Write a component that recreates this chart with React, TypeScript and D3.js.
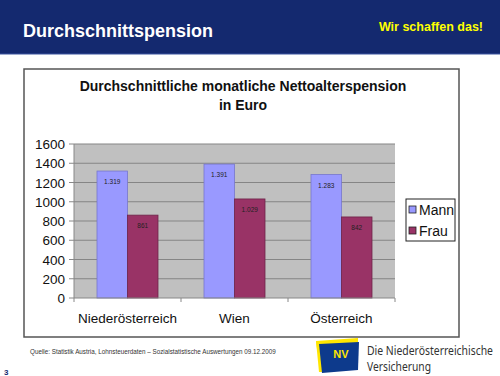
import React from "react";
import * as d3 from "d3";

const categories = ["Niederösterreich", "Wien", "Österreich"];
const seriesNames = ["Mann", "Frau"];
const mannValues = [1319, 1391, 1283];
const frauValues = [861, 1029, 842];
const mannLabels = ["1.319", "1.391", "1.283"];
const frauLabels = ["861", "1.029", "842"];
const yTicks = [0, 200, 400, 600, 800, 1000, 1200, 1400, 1600];
const colors = ["#9999ff", "#993366"];
const strokes = ["#7777cc", "#6e2449"];

const W = 500;
const H = 376;
const plot = { left: 74, right: 395, top: 144, bottom: 298 };
const font = "'Liberation Sans', Arial, Helvetica, sans-serif";

export default function App() {
  const x0 = d3.scaleBand<string>().domain(categories).range([plot.left, plot.right]).padding(0);
  const x1 = d3
    .scaleBand<string>()
    .domain(seriesNames)
    .range([0, x0.bandwidth()])
    .paddingInner(0)
    .paddingOuter(0.754);
  const y = d3.scaleLinear().domain([0, 1600]).range([plot.bottom, plot.top]);
  const series = [
    { name: "Mann", values: mannValues, labels: mannLabels },
    { name: "Frau", values: frauValues, labels: frauLabels },
  ];
  const boundaries = [...categories.map((c) => x0(c) as number), plot.right];
  const sx = 0.8;

  return (
    <svg
      width={W}
      height={H}
      style={{ position: "absolute", left: 0, top: 0, display: "block" }}
      fontFamily={font}
    >
      <rect x={0} y={0} width={W} height={H} fill="#ffffff" />
      {/* header */}
      <rect x={0} y={0} width={W} height={54} fill="#14296f" />
      <line x1={0} x2={W} y1={54} y2={54} stroke="#3a55a0" strokeWidth={1} />
      <text x={23} y={37} fill="#ffffff" fontSize={18} fontWeight="bold">
        Durchschnittspension
      </text>
      <text x={483} y={31} fill="#ffff00" fontSize={12.5} fontWeight="bold" textAnchor="end">
        Wir schaffen das!
      </text>

      {/* chart frame */}
      <rect x={24} y={69} width={435} height={268} fill="#ffffff" stroke="#555555" strokeWidth={1.5} />
      <text x={243} y={91} fontSize={14} fontWeight="bold" textAnchor="middle" fill="#111">
        Durchschnittliche monatliche Nettoalterspension
      </text>
      <text x={243} y={110} fontSize={14} fontWeight="bold" textAnchor="middle" fill="#111">
        in Euro
      </text>

      {/* plot area */}
      <rect
        x={plot.left}
        y={plot.top}
        width={plot.right - plot.left}
        height={plot.bottom - plot.top}
        fill="#c0c0c0"
      />
      {yTicks.map((t) => (
        <g key={t}>
          {t > 0 && (
            <line x1={plot.left} x2={plot.right} y1={y(t)} y2={y(t)} stroke="#858585" strokeWidth={1} />
          )}
          <line x1={plot.left - 5} x2={plot.left} y1={y(t)} y2={y(t)} stroke="#888888" strokeWidth={1} />
          <text x={65} y={y(t) + 5} fontSize={13.5} textAnchor="end" fill="#111">
            {t}
          </text>
        </g>
      ))}

      {/* bars */}
      {categories.map((c, ci) =>
        series.map((s, si) => {
          const bx = (x0(c) as number) + (x1(s.name) as number);
          const by = y(s.values[ci]);
          return (
            <g key={c + s.name}>
              <rect
                x={bx}
                y={by}
                width={x1.bandwidth()}
                height={y(0) - by}
                fill={colors[si]}
                stroke={strokes[si]}
                strokeWidth={0.8}
              />
              <text
                x={bx + x1.bandwidth() / 2}
                y={by + 13}
                fontSize={6.5}
                textAnchor="middle"
                fill="#222"
              >
                {s.labels[ci]}
              </text>
            </g>
          );
        })
      )}

      {/* axes */}
      <line x1={plot.left} x2={plot.left} y1={plot.top} y2={plot.bottom} stroke="#888888" strokeWidth={1} />
      <line x1={plot.left} x2={plot.right} y1={plot.bottom} y2={plot.bottom} stroke="#888888" strokeWidth={1} />
      {boundaries.map((bx, i) => (
        <line key={i} x1={bx} x2={bx} y1={plot.bottom} y2={plot.bottom + 4} stroke="#888888" strokeWidth={1} />
      ))}
      {categories.map((c) => (
        <text
          key={c}
          x={(x0(c) as number) + x0.bandwidth() / 2}
          y={323}
          fontSize={13.5}
          textAnchor="middle"
          fill="#111"
        >
          {c}
        </text>
      ))}

      {/* legend */}
      <rect x={406} y={199} width={49} height={42} fill="#ffffff" stroke="#222" strokeWidth={1} />
      {seriesNames.map((n, i) => (
        <g key={n}>
          <rect x={409} y={206 + i * 21} width={7} height={7} fill={colors[i]} stroke="#222" strokeWidth={0.8} />
          <text x={419} y={215 + i * 21} fontSize={14} fill="#111">
            {n}
          </text>
        </g>
      ))}

      {/* footer */}
      <text x={30} y={354} fontSize={6.3} fill="#333">
        Quelle: Statistik Austria, Lohnsteuerdaten – Sozialstatistische Auswertungen 09.12.2009
      </text>
      <text x={4} y={375} fontSize={8} fontWeight="bold" fill="#14296f">
        3
      </text>
      {/* logo */}
      <polygon points="316,341 358,338 358,346 317,349" fill="#ffe600" />
      <polygon points="316,341 322,341 324,372 319,372" fill="#ffe600" />
      <polygon points="319,344 359,342 358,370 322,373" fill="#0d3a8c" />
      <text x={341} y={358} fontSize={11} fontWeight="bold" fill="#ffe600" textAnchor="middle">
        NV
      </text>
      <g transform={`translate(367,355) scale(${sx},1)`}>
        <text
          x={0}
          y={0}
          fontSize={12}
          fill="#333"
          fontFamily="'Noto Sans', 'Open Sans', sans-serif"
          textLength={126 / sx}
          lengthAdjust="spacingAndGlyphs"
        >
          Die Niederösterreichische
        </text>
      </g>
      <g transform={`translate(367,371) scale(${sx},1)`}>
        <text
          x={0}
          y={0}
          fontSize={12}
          fill="#333"
          fontFamily="'Noto Sans', 'Open Sans', sans-serif"
          textLength={64 / sx}
          lengthAdjust="spacingAndGlyphs"
        >
          Versicherung
        </text>
      </g>
    </svg>
  );
}
